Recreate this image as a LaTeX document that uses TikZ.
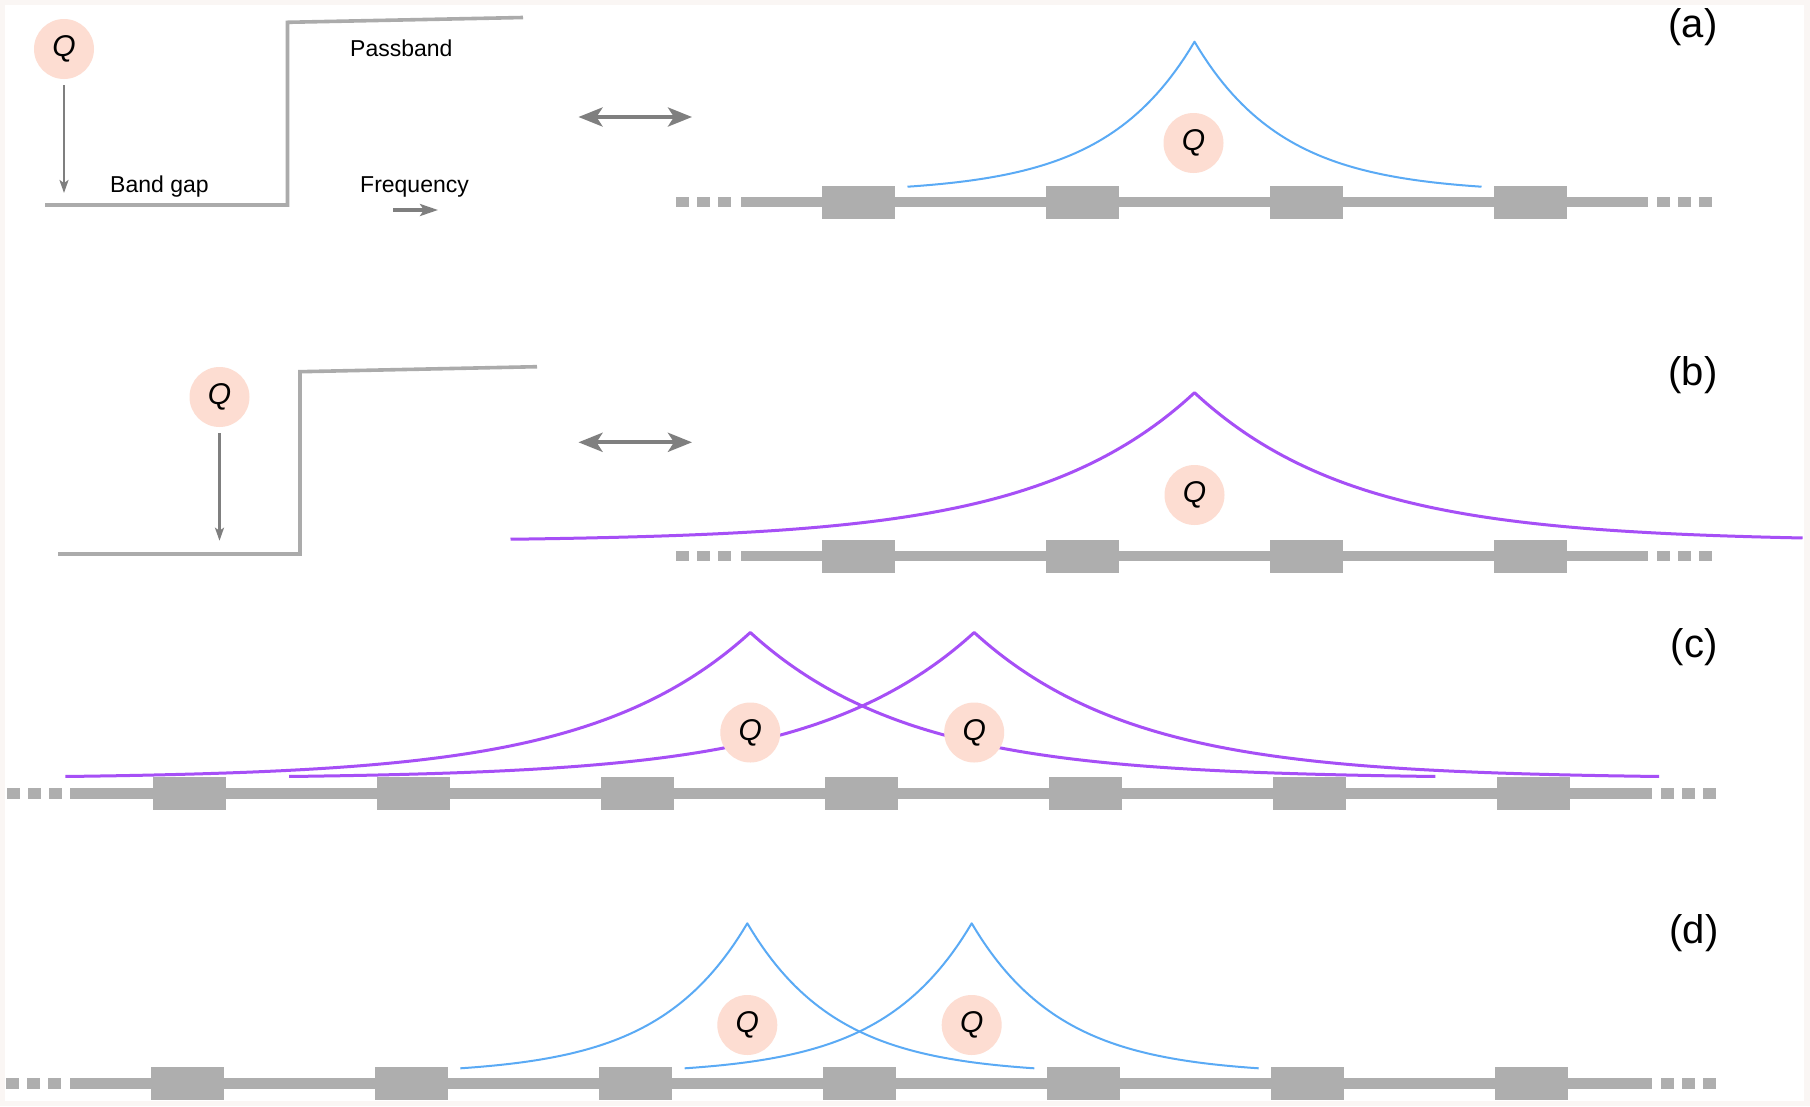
\documentclass[tikz,border=0pt]{standalone}
\usepackage{fontspec}
\setmainfont{Liberation Sans}
\usetikzlibrary{shapes, arrows.meta}
\definecolor{framebg}{HTML}{FAF6F4}
\definecolor{qpink}{HTML}{FDDDD2}
\definecolor{chaingray}{HTML}{AEAEAE}
\definecolor{bandgray}{HTML}{ABABAB}
\definecolor{arrowgray}{HTML}{7F7F7F}
\definecolor{waveblue}{HTML}{5AAAF5}
\definecolor{wavepurple}{HTML}{A64FF6}
\tikzstyle{qdot} = [circle, fill=qpink, minimum size=60pt, inner sep=0pt, font=\fontsize{30}{30}\selectfont\itshape]
\tikzstyle{block} = [rectangle, fill=chaingray, minimum width=73pt, minimum height=33pt, inner sep=0pt]
\tikzstyle{chainline} = [draw=chaingray, line width=10.6pt]
\tikzstyle{bandline} = [draw=bandgray, line width=3.6pt, line join=miter]
\tikzstyle{txt} = [inner sep=0pt, anchor=base west, font=\fontsize{23}{28}\selectfont]
\tikzstyle{panel} = [inner sep=0pt, anchor=base, font=\fontsize{40}{48}\selectfont]
\tikzstyle{downarrow} = [draw=arrowgray, line width=2.2pt, shorten <=6pt, -{Stealth[length=13pt, width=9pt, inset=3pt]}]
\tikzstyle{freqarrow} = [draw=arrowgray, line width=3.2pt, -{Stealth[length=18pt, width=12pt, inset=4pt]}]
\tikzstyle{dblarrow} = [draw=arrowgray, line width=4pt, {Stealth[length=24pt, width=19pt, inset=6pt]}-{Stealth[length=24pt, width=19pt, inset=6pt]}]
\tikzstyle{bluewave} = [draw=waveblue, line width=2pt]
\tikzstyle{purplewave} = [draw=wavepurple, line width=3pt]

\begin{document}
\begin{tikzpicture}[x=1pt, y=-1pt, line join=round]
    \useasboundingbox (0,0) rectangle (1810,1106);
    \fill[framebg] (0,0) rectangle (1810,1106);
    \fill[white] (4.5,4.7) rectangle (1804,1100.7);

    % (a) band picture
    \draw [bandline] (45,205) -- (287.5,205) -- (287.5,22.3) -- (523,17.5);
    \node (qa) [qdot] at (64,49) {Q};
    \coordinate (qabot) at (64,193);
    \draw [downarrow] (qa) -- (qabot);
    \node (passband) [txt] at (350,56) {Passband};
    \node (bandgap) [txt] at (110,192) {Band gap};
    \node (freq) [txt] at (360,192.5) {Frequency};
    \coordinate (freqs) at (393,210);
    \coordinate (freqe) at (438,210);
    \draw [freqarrow] (freqs) -- (freqe);
    \coordinate (dbla1) at (578.5,117);
    \coordinate (dbla2) at (692,117);
    \draw [dblarrow] (dbla1) -- (dbla2);
    \node (laba) [panel] at (1693,37) {(a)};

    % (a) chain
    \draw [chainline] (741,202) -- (1648,202);
    \foreach \dx in {676,697,718,1657,1678,1699}
        \fill [chaingray] (\dx,196.7) rectangle +(13,10.6);
    \foreach \cx [count=\i] in {858,1082,1306,1530}
        \node (ba\i) [block] at (\cx,202) {};
    \draw [bluewave] plot[domain=-287:287, samples=121] ({1194.5+\x}, {192.7-151*exp(-abs(\x)/89)});
    \node (qa2) [qdot] at (1193.5,143) {Q};

    % (b) band picture
    \draw [bandline] (58,554) -- (300,554) -- (300,371.7) -- (537,366.7);
    \node (qb) [qdot] at (219.5,397) {Q};
    \coordinate (qbbot) at (219.5,540.7);
    \draw [downarrow] (qb) -- (qbbot);
    \coordinate (dblb1) at (578.5,442.3);
    \coordinate (dblb2) at (692,442.3);
    \draw [dblarrow] (dblb1) -- (dblb2);
    \node (labb) [panel] at (1693,385) {(b)};

    % (b) chain
    \draw [chainline] (741,556) -- (1648,556);
    \foreach \dx in {676,697,718,1657,1678,1699}
        \fill [chaingray] (\dx,550.7) rectangle +(13,10.6);
    \foreach \cx [count=\i] in {858,1082,1306,1530}
        \node (bb\i) [block] at (\cx,556) {};
    \draw [purplewave] plot[domain=-684:608, samples=324] ({1194.5+\x}, {541.3-148.6*exp(-abs(\x)/160)});
    \node (qb2) [qdot] at (1194.5,495) {Q};

    % (c) chain
    \draw [chainline] (70,793.3) -- (1652,793.3);
    \foreach \dx in {7,28,49,1661,1682,1703}
        \fill [chaingray] (\dx,788) rectangle +(13,10.6);
    \foreach \cx [count=\i] in {189,413,637,861,1085,1309,1533}
        \node (bc\i) [block] at (\cx,793.3) {};
    \draw [purplewave] plot[domain=-685:685, samples=275] ({750.3+\x}, {778.5-146*exp(-abs(\x)/160)});
    \draw [purplewave] plot[domain=-685:685, samples=275] ({974.2+\x}, {778.5-146*exp(-abs(\x)/160)});
    \node (qc1) [qdot] at (750.3,732.5) {Q};
    \node (qc2) [qdot] at (974.2,732.5) {Q};
    \node (labc) [panel] at (1694,657) {(c)};

    % (d) chain
    \draw [chainline] (70,1083.7) -- (1652,1083.7);
    \foreach \dx in {6,27,48,1661,1682,1703}
        \fill [chaingray] (\dx,1078.4) rectangle +(13,10.6);
    \foreach \cx [count=\i] in {187,411,635,859,1083,1307,1531}
        \node (bd\i) [block] at (\cx,1083.7) {};
    \draw [bluewave] plot[domain=-287:287, samples=121] ({747.3+\x}, {1074.3-151*exp(-abs(\x)/89)});
    \draw [bluewave] plot[domain=-287:287, samples=121] ({971.7+\x}, {1074.3-151*exp(-abs(\x)/89)});
    \node (qd1) [qdot] at (747.3,1025) {Q};
    \node (qd2) [qdot] at (971.7,1025) {Q};
    \node (labd) [panel] at (1694,943.7) {(d)};
\end{tikzpicture}
\end{document}
